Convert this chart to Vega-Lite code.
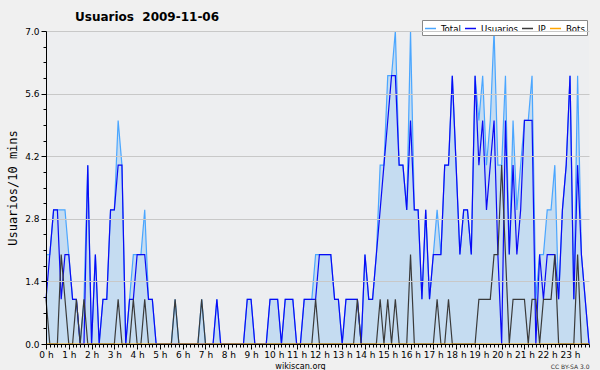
{
  "$schema": "https://vega.github.io/schema/vega-lite/v6.json",
  "width": 543,
  "height": 313,
  "autosize": {"type": "none"},
  "padding": {"left": 46, "top": 31, "right": 11, "bottom": 26},
  "background": "#f0f0f0",
  "config": {"view": {"fill": "#edeef0", "stroke": null}, "font": "DejaVu Sans"},
  "title": {"text": "Usuarios\u00a0\u00a02009-11-06", "anchor": "start", "frame": "group", "dx": 29, "dy": 7, "offset": 3, "fontSize": 12, "fontWeight": "bold", "color": "#000000"},
  "data": {"values": [
    {"m":0,"Total":2,"Usuarios":1,"IP":1,"Bots":0},{"m":10,"Total":2,"Usuarios":2,"IP":0,"Bots":0},{"m":20,"Total":3,"Usuarios":3,"IP":0,"Bots":0},{"m":30,"Total":3,"Usuarios":3,"IP":0,"Bots":0},{"m":40,"Total":3,"Usuarios":1,"IP":2,"Bots":0},{"m":50,"Total":3,"Usuarios":2,"IP":1,"Bots":0},{"m":60,"Total":2,"Usuarios":2,"IP":0,"Bots":0},{"m":70,"Total":1,"Usuarios":1,"IP":0,"Bots":0},{"m":80,"Total":1,"Usuarios":1,"IP":1,"Bots":0},{"m":90,"Total":0,"Usuarios":0,"IP":0,"Bots":0},
    {"m":100,"Total":1,"Usuarios":0,"IP":1,"Bots":0},{"m":110,"Total":4,"Usuarios":4,"IP":0,"Bots":0},{"m":120,"Total":0,"Usuarios":0,"IP":0,"Bots":0},{"m":130,"Total":2,"Usuarios":2,"IP":0,"Bots":0},{"m":140,"Total":0,"Usuarios":0,"IP":0,"Bots":0},{"m":150,"Total":1,"Usuarios":1,"IP":0,"Bots":0},{"m":160,"Total":1,"Usuarios":1,"IP":0,"Bots":0},{"m":170,"Total":3,"Usuarios":3,"IP":0,"Bots":0},{"m":180,"Total":3,"Usuarios":3,"IP":0,"Bots":0},{"m":190,"Total":5,"Usuarios":4,"IP":1,"Bots":0},
    {"m":200,"Total":4,"Usuarios":4,"IP":0,"Bots":0},{"m":210,"Total":0,"Usuarios":0,"IP":0,"Bots":0},{"m":220,"Total":1,"Usuarios":1,"IP":0,"Bots":0},{"m":230,"Total":2,"Usuarios":1,"IP":1,"Bots":0},{"m":240,"Total":2,"Usuarios":2,"IP":0,"Bots":0},{"m":250,"Total":2,"Usuarios":2,"IP":0,"Bots":0},{"m":260,"Total":3,"Usuarios":2,"IP":1,"Bots":0},{"m":270,"Total":1,"Usuarios":1,"IP":0,"Bots":0},{"m":280,"Total":1,"Usuarios":1,"IP":0,"Bots":0},{"m":290,"Total":0,"Usuarios":0,"IP":0,"Bots":0},
    {"m":300,"Total":0,"Usuarios":0,"IP":0,"Bots":0},{"m":310,"Total":0,"Usuarios":0,"IP":0,"Bots":0},{"m":320,"Total":0,"Usuarios":0,"IP":0,"Bots":0},{"m":330,"Total":0,"Usuarios":0,"IP":0,"Bots":0},{"m":340,"Total":1,"Usuarios":0,"IP":1,"Bots":0},{"m":350,"Total":0,"Usuarios":0,"IP":0,"Bots":0},{"m":360,"Total":0,"Usuarios":0,"IP":0,"Bots":0},{"m":370,"Total":0,"Usuarios":0,"IP":0,"Bots":0},{"m":380,"Total":0,"Usuarios":0,"IP":0,"Bots":0},{"m":390,"Total":0,"Usuarios":0,"IP":0,"Bots":0},
    {"m":400,"Total":0,"Usuarios":0,"IP":0,"Bots":0},{"m":410,"Total":1,"Usuarios":0,"IP":1,"Bots":0},{"m":420,"Total":0,"Usuarios":0,"IP":0,"Bots":0},{"m":430,"Total":0,"Usuarios":0,"IP":0,"Bots":0},{"m":440,"Total":0,"Usuarios":0,"IP":0,"Bots":0},{"m":450,"Total":1,"Usuarios":1,"IP":0,"Bots":0},{"m":460,"Total":0,"Usuarios":0,"IP":0,"Bots":0},{"m":470,"Total":0,"Usuarios":0,"IP":0,"Bots":0},{"m":480,"Total":0,"Usuarios":0,"IP":0,"Bots":0},{"m":490,"Total":0,"Usuarios":0,"IP":0,"Bots":0},
    {"m":500,"Total":0,"Usuarios":0,"IP":0,"Bots":0},{"m":510,"Total":0,"Usuarios":0,"IP":0,"Bots":0},{"m":520,"Total":0,"Usuarios":0,"IP":0,"Bots":0},{"m":530,"Total":1,"Usuarios":1,"IP":0,"Bots":0},{"m":540,"Total":1,"Usuarios":1,"IP":0,"Bots":0},{"m":550,"Total":0,"Usuarios":0,"IP":0,"Bots":0},{"m":560,"Total":0,"Usuarios":0,"IP":0,"Bots":0},{"m":570,"Total":0,"Usuarios":0,"IP":0,"Bots":0},{"m":580,"Total":0,"Usuarios":0,"IP":0,"Bots":0},{"m":590,"Total":1,"Usuarios":1,"IP":0,"Bots":0},
    {"m":600,"Total":1,"Usuarios":1,"IP":0,"Bots":0},{"m":610,"Total":1,"Usuarios":1,"IP":0,"Bots":0},{"m":620,"Total":0,"Usuarios":0,"IP":0,"Bots":0},{"m":630,"Total":1,"Usuarios":1,"IP":0,"Bots":0},{"m":640,"Total":1,"Usuarios":1,"IP":0,"Bots":0},{"m":650,"Total":1,"Usuarios":1,"IP":0,"Bots":0},{"m":660,"Total":0,"Usuarios":0,"IP":0,"Bots":0},{"m":670,"Total":0,"Usuarios":0,"IP":0,"Bots":0},{"m":680,"Total":1,"Usuarios":1,"IP":0,"Bots":0},{"m":690,"Total":1,"Usuarios":1,"IP":0,"Bots":0},
    {"m":700,"Total":1,"Usuarios":1,"IP":0,"Bots":0},{"m":710,"Total":2,"Usuarios":1,"IP":1,"Bots":0},{"m":720,"Total":2,"Usuarios":2,"IP":0,"Bots":0},{"m":730,"Total":2,"Usuarios":2,"IP":0,"Bots":0},{"m":740,"Total":2,"Usuarios":2,"IP":0,"Bots":0},{"m":750,"Total":2,"Usuarios":2,"IP":0,"Bots":0},{"m":760,"Total":1,"Usuarios":1,"IP":0,"Bots":0},{"m":770,"Total":1,"Usuarios":1,"IP":0,"Bots":0},{"m":780,"Total":0,"Usuarios":0,"IP":0,"Bots":0},{"m":790,"Total":1,"Usuarios":1,"IP":0,"Bots":0},
    {"m":800,"Total":1,"Usuarios":1,"IP":0,"Bots":0},{"m":810,"Total":1,"Usuarios":1,"IP":0,"Bots":0},{"m":820,"Total":1,"Usuarios":1,"IP":1,"Bots":0},{"m":830,"Total":0,"Usuarios":0,"IP":0,"Bots":0},{"m":840,"Total":2,"Usuarios":2,"IP":0,"Bots":0},{"m":850,"Total":1,"Usuarios":1,"IP":0,"Bots":0},{"m":860,"Total":1,"Usuarios":1,"IP":0,"Bots":0},{"m":870,"Total":2,"Usuarios":2,"IP":0,"Bots":0},{"m":880,"Total":4,"Usuarios":3,"IP":1,"Bots":0},{"m":890,"Total":4,"Usuarios":4,"IP":0,"Bots":0},
    {"m":900,"Total":6,"Usuarios":5,"IP":1,"Bots":0},{"m":910,"Total":6,"Usuarios":6,"IP":0,"Bots":0},{"m":920,"Total":7,"Usuarios":6,"IP":1,"Bots":0},{"m":930,"Total":4,"Usuarios":4,"IP":0,"Bots":0},{"m":940,"Total":4,"Usuarios":4,"IP":0,"Bots":0},{"m":950,"Total":3,"Usuarios":3,"IP":0,"Bots":0},{"m":960,"Total":7,"Usuarios":5,"IP":2,"Bots":0},{"m":970,"Total":3,"Usuarios":3,"IP":0,"Bots":0},{"m":980,"Total":3,"Usuarios":3,"IP":0,"Bots":0},{"m":990,"Total":1,"Usuarios":1,"IP":0,"Bots":0},
    {"m":1000,"Total":3,"Usuarios":3,"IP":0,"Bots":0},{"m":1010,"Total":1,"Usuarios":1,"IP":0,"Bots":0},{"m":1020,"Total":2,"Usuarios":2,"IP":0,"Bots":0},{"m":1030,"Total":3,"Usuarios":2,"IP":1,"Bots":0},{"m":1040,"Total":2,"Usuarios":2,"IP":0,"Bots":0},{"m":1050,"Total":4,"Usuarios":4,"IP":0,"Bots":0},{"m":1060,"Total":4,"Usuarios":4,"IP":1,"Bots":0},{"m":1070,"Total":6,"Usuarios":6,"IP":0,"Bots":0},{"m":1080,"Total":4,"Usuarios":4,"IP":0,"Bots":0},{"m":1090,"Total":2,"Usuarios":2,"IP":0,"Bots":0},
    {"m":1100,"Total":3,"Usuarios":3,"IP":0,"Bots":0},{"m":1110,"Total":3,"Usuarios":3,"IP":0,"Bots":0},{"m":1120,"Total":2,"Usuarios":2,"IP":0,"Bots":0},{"m":1130,"Total":6,"Usuarios":6,"IP":0,"Bots":0},{"m":1140,"Total":5,"Usuarios":4,"IP":1,"Bots":0},{"m":1150,"Total":6,"Usuarios":5,"IP":1,"Bots":0},{"m":1160,"Total":4,"Usuarios":3,"IP":1,"Bots":0},{"m":1170,"Total":5,"Usuarios":4,"IP":1,"Bots":0},{"m":1180,"Total":7,"Usuarios":5,"IP":2,"Bots":0},{"m":1190,"Total":4,"Usuarios":2,"IP":2,"Bots":0},
    {"m":1200,"Total":4,"Usuarios":0,"IP":4,"Bots":0},{"m":1210,"Total":6,"Usuarios":5,"IP":2,"Bots":0},{"m":1220,"Total":2,"Usuarios":2,"IP":0,"Bots":0},{"m":1230,"Total":5,"Usuarios":4,"IP":1,"Bots":0},{"m":1240,"Total":3,"Usuarios":2,"IP":1,"Bots":0},{"m":1250,"Total":4,"Usuarios":3,"IP":1,"Bots":0},{"m":1260,"Total":5,"Usuarios":5,"IP":1,"Bots":0},{"m":1270,"Total":5,"Usuarios":5,"IP":0,"Bots":0},{"m":1280,"Total":6,"Usuarios":5,"IP":1,"Bots":0},{"m":1290,"Total":1,"Usuarios":0,"IP":1,"Bots":0},
    {"m":1300,"Total":2,"Usuarios":2,"IP":0,"Bots":0},{"m":1310,"Total":2,"Usuarios":1,"IP":1,"Bots":0},{"m":1320,"Total":3,"Usuarios":2,"IP":1,"Bots":0},{"m":1330,"Total":3,"Usuarios":2,"IP":1,"Bots":0},{"m":1340,"Total":4,"Usuarios":2,"IP":2,"Bots":0},{"m":1350,"Total":1,"Usuarios":1,"IP":0,"Bots":0},{"m":1360,"Total":3,"Usuarios":3,"IP":0,"Bots":0},{"m":1370,"Total":4,"Usuarios":4,"IP":0,"Bots":0},{"m":1380,"Total":6,"Usuarios":6,"IP":0,"Bots":0},{"m":1390,"Total":1,"Usuarios":1,"IP":0,"Bots":0},
    {"m":1400,"Total":6,"Usuarios":4,"IP":2,"Bots":0},{"m":1410,"Total":2,"Usuarios":2,"IP":0,"Bots":0},{"m":1420,"Total":1,"Usuarios":1,"IP":0,"Bots":0},{"m":1430,"Total":0,"Usuarios":0,"IP":0,"Bots":0}
  ]},
  "transform": [{"fold": ["Total", "Usuarios", "IP", "Bots"], "as": ["serie", "valor"]}],
  "encoding": {
    "y": {
      "field": "valor", "type": "quantitative",
      "scale": {"domain": [0, 7], "nice": false, "zero": true},
      "axis": {
        "values": [0, 0.35, 0.7, 1.05, 1.4, 1.75, 2.1, 2.45, 2.8, 3.15, 3.5, 3.85, 4.2, 4.55, 4.9, 5.25, 5.6, 5.95, 6.3, 6.65, 7],
        "labelExpr": "abs(datum.value/1.4 - round(datum.value/1.4)) < 0.001 ? format(datum.value, '.1f') : ''",
        "tickSize": {"condition": {"test": "abs(datum.value/1.4 - round(datum.value/1.4)) < 0.001", "value": 5}, "value": 3},
        "gridOpacity": {"condition": {"test": "abs(datum.value/1.4 - round(datum.value/1.4)) < 0.001 && datum.value > 0", "value": 1}, "value": 0},
        "grid": true, "gridColor": "#c8c8c8", "gridWidth": 1,
        "domainColor": "#000000", "tickColor": "#000000", "labelColor": "#000000",
        "labelFontSize": 9, "labelPadding": 2, "labelOverlap": false, "labelFlush": false,
        "title": "Usuarios/10 mins", "titleFont": "DejaVu Sans Mono", "titleFontSize": 12, "titleFontWeight": "normal", "titleColor": "#000000", "titlePadding": 5,
        "zindex": 1
      }
    }
  },
  "layer": [
    {
      "transform": [{"filter": "datum.serie === 'Total'"}],
      "mark": {"type": "area", "color": "#c5dcf1", "opacity": 1, "interpolate": "linear"},
      "encoding": {
        "x": {
          "field": "m", "type": "quantitative",
          "scale": {"domain": [0, 1430], "nice": false, "zero": false},
          "axis": {
            "values": [0,10,20,30,40,50,60,70,80,90,100,110,120,130,140,150,160,170,180,190,200,210,220,230,240,250,260,270,280,290,300,310,320,330,340,350,360,370,380,390,400,410,420,430,440,450,460,470,480,490,500,510,520,530,540,550,560,570,580,590,600,610,620,630,640,650,660,670,680,690,700,710,720,730,740,750,760,770,780,790,800,810,820,830,840,850,860,870,880,890,900,910,920,930,940,950,960,970,980,990,1000,1010,1020,1030,1040,1050,1060,1070,1080,1090,1100,1110,1120,1130,1140,1150,1160,1170,1180,1190,1200,1210,1220,1230,1240,1250,1260,1270,1280,1290,1300,1310,1320,1330,1340,1350,1360,1370,1380,1390,1400,1410,1420,1430],
            "labelExpr": "datum.value % 60 === 0 ? (datum.value / 60) + ' h' : ''",
            "tickSize": {"condition": {"test": "datum.value % 60 === 0", "value": 5}, "value": 3},
            "grid": false, "domainColor": "#000000", "tickColor": "#000000", "labelColor": "#000000",
            "labelFontSize": 9, "labelPadding": 1, "labelOverlap": false, "labelFlush": false,
            "title": "wikiscan.org", "titleFont": "DejaVu Sans Condensed", "titleFontSize": 9, "titleFontWeight": "normal", "titleColor": "#000000",
            "titleX": 254, "titleY": 17, "titleAlign": "center", "titleBaseline": "top",
            "zindex": 1
          }
        }
      }
    },
    {
      "mark": {"type": "line", "strokeWidth": 1.2, "interpolate": "linear"},
      "encoding": {
        "x": {
          "field": "m", "type": "quantitative",
          "axis": {"orient": "bottom", "domain": false, "ticks": false, "labels": false, "grid": false,
                   "title": "CC BY-SA 3.0", "titleFontSize": 6, "titleFontWeight": "normal", "titleColor": "#333333",
                   "titleAnchor": "end", "titleAlign": "right", "titleX": 543, "titleY": 19, "titleBaseline": "top"}
        },
        "color": {
          "field": "serie", "type": "nominal",
          "scale": {"domain": ["Total", "Usuarios", "IP", "Bots"], "range": ["#4aa6ff", "#0a0af5", "#3a3a3a", "#ffa500"]},
          "legend": {
            "orient": "none", "legendX": 376, "legendY": -11, "direction": "horizontal", "title": null,
            "fillColor": "#ffffff", "strokeColor": "#888888", "padding": 2, "gridAlign": "none",
            "symbolType": "stroke", "symbolSize": 121, "symbolStrokeWidth": 1.5,
            "labelFont": "DejaVu Sans Condensed", "labelFontSize": 9.5, "labelColor": "#000000", "columnPadding": 1, "labelOffset": 4
          }
        }
      }
    }
  ],
  "resolve": {"axis": {"x": "independent"}}
}
